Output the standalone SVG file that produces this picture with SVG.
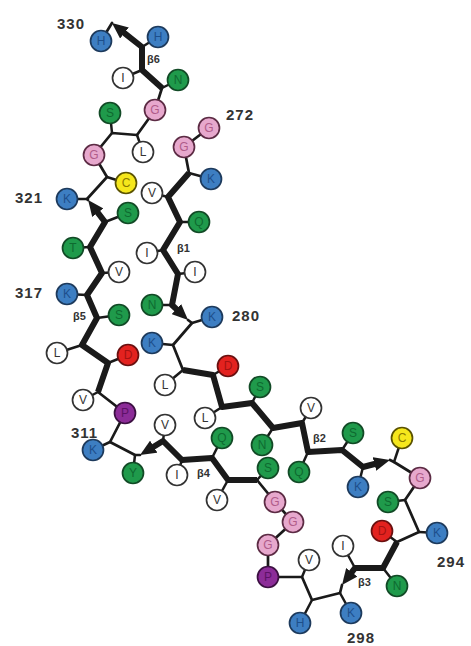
<svg xmlns="http://www.w3.org/2000/svg" width="471" height="646" viewBox="0 0 471 646">
<style>
.loop{fill:none;stroke:#1a1a1a;stroke-width:2.7;stroke-linejoin:round;stroke-linecap:round}
.strand{fill:none;stroke:#1a1a1a;stroke-width:6;stroke-linejoin:round;stroke-linecap:butt;marker-end:url(#ah)}
.side{stroke:#1a1a1a;stroke-width:2.5;stroke-linecap:round}
circle{stroke-width:1.7}
.res text{font-family:"Liberation Sans",Arial,sans-serif;font-size:12px;text-anchor:middle;dominant-baseline:central}
.b circle{fill:#3d7ec2;stroke:#1d3a5c}.b text{fill:#1d4f8c}
.g circle{fill:#1f9a4b;stroke:#124a26}.g text{fill:#0e6a30}
.p circle{fill:#e7a8cd;stroke:#5c2b44}.p text{fill:#b05c8a}
.r circle{fill:#e3221f;stroke:#6a1010}.r text{fill:#a51212}
.y circle{fill:#f5e71c;stroke:#5a5200}.y text{fill:#8a7a00}
.u circle{fill:#8c2c98;stroke:#3c1042}.u text{fill:#5c1266}
.w circle{fill:#ffffff;stroke:#333333}.w text{fill:#333333}
.num{font-family:"Liberation Sans",Arial,sans-serif;font-size:15px;font-weight:bold;fill:#333;letter-spacing:1px}
.beta{font-family:"Liberation Sans",Arial,sans-serif;font-size:11px;font-weight:bold;fill:#333}
</style>
<defs>
<marker id="ah" markerUnits="userSpaceOnUse" markerWidth="16" markerHeight="14" viewBox="0 0 16 14" refX="2" refY="7" orient="auto"><path d="M0,0 L16,7 L0,14 z" fill="#1a1a1a"/></marker>
</defs>
<g id="connectors">
<path class="loop" d="M209,128 L184,147 L189,173"/>
<path class="loop" d="M188,320 L192,323 L173,345 L183,370"/>
<path class="loop" d="M390,460 L394,462 L420,478 L405,500 L419,532 L397,542"/>
<path class="loop" d="M342,585 L340,593 L312,600 L302,577 L268,577 L268,545 L293,522 L275,502 L257,480"/>
<path class="loop" d="M140,455 L135,455 L110,442 L125,413 L98,392"/>
<path class="loop" d="M88,200 L87,199 L107,177 L94,155 L112,133 L137,135 L155,110 L162,88"/>
<path class="loop" d="M101,41 L112,23"/>
<path class="strand" d="M189,173 L168,197 L180,222 L163,250 L178,274 L172,305 L177.8,310.4"/>
<path class="strand" d="M183,370 L213,375 L222,407 L252,403 L273,428 L302,423 L308,452 L342,450 L363,467 L376.4,463.5"/>
<path class="strand" d="M397,542 L383,568 L355,568 L350.5,573.9"/>
<path class="strand" d="M257,480 L228,480 L212,458 L182,460 L163,441 L152,447.7"/>
<path class="strand" d="M98,392 L108,363 L82,345 L97,318 L87,295 L102,273 L90,247 L105,222 L96.6,211.1"/>
<path class="strand" d="M162,88 L142,70 L142,47 L122.9,31.8"/>
<line class="side" x1="189" y1="173" x2="211" y2="179"/>
<line class="side" x1="168" y1="197" x2="152" y2="193"/>
<line class="side" x1="180" y1="222" x2="199" y2="222"/>
<line class="side" x1="163" y1="250" x2="147" y2="253"/>
<line class="side" x1="178" y1="274" x2="195" y2="272"/>
<line class="side" x1="172" y1="305" x2="152" y2="305"/>
<line class="side" x1="192" y1="323" x2="212" y2="317"/>
<line class="side" x1="173" y1="345" x2="152" y2="343"/>
<line class="side" x1="183" y1="370" x2="165" y2="385"/>
<line class="side" x1="213" y1="375" x2="228" y2="366"/>
<line class="side" x1="222" y1="407" x2="205" y2="418"/>
<line class="side" x1="252" y1="403" x2="260" y2="387"/>
<line class="side" x1="273" y1="428" x2="262" y2="445"/>
<line class="side" x1="302" y1="423" x2="311" y2="408"/>
<line class="side" x1="308" y1="452" x2="299" y2="472"/>
<line class="side" x1="342" y1="450" x2="353" y2="433"/>
<line class="side" x1="363" y1="467" x2="358" y2="487"/>
<line class="side" x1="394" y1="462" x2="402" y2="438"/>
<line class="side" x1="405" y1="500" x2="388" y2="502"/>
<line class="side" x1="419" y1="532" x2="437" y2="533"/>
<line class="side" x1="397" y1="542" x2="382" y2="531"/>
<line class="side" x1="383" y1="568" x2="397" y2="586"/>
<line class="side" x1="355" y1="568" x2="343" y2="546"/>
<line class="side" x1="340" y1="593" x2="351" y2="613"/>
<line class="side" x1="312" y1="600" x2="300" y2="623"/>
<line class="side" x1="302" y1="577" x2="309" y2="560"/>
<line class="side" x1="257" y1="480" x2="268" y2="468"/>
<line class="side" x1="228" y1="480" x2="217" y2="500"/>
<line class="side" x1="212" y1="458" x2="222" y2="438"/>
<line class="side" x1="182" y1="460" x2="177" y2="475"/>
<line class="side" x1="163" y1="441" x2="165" y2="425"/>
<line class="side" x1="135" y1="455" x2="133" y2="473"/>
<line class="side" x1="110" y1="442" x2="93" y2="450"/>
<line class="side" x1="98" y1="392" x2="83" y2="400"/>
<line class="side" x1="108" y1="363" x2="128" y2="355"/>
<line class="side" x1="82" y1="345" x2="57" y2="353"/>
<line class="side" x1="97" y1="318" x2="119" y2="315"/>
<line class="side" x1="87" y1="295" x2="67" y2="294"/>
<line class="side" x1="102" y1="273" x2="119" y2="272"/>
<line class="side" x1="90" y1="247" x2="73" y2="248"/>
<line class="side" x1="105" y1="222" x2="128" y2="213"/>
<line class="side" x1="87" y1="199" x2="67" y2="199"/>
<line class="side" x1="107" y1="177" x2="126" y2="183"/>
<line class="side" x1="112" y1="133" x2="110" y2="113"/>
<line class="side" x1="137" y1="135" x2="143" y2="152"/>
<line class="side" x1="162" y1="88" x2="178" y2="80"/>
<line class="side" x1="142" y1="70" x2="123" y2="78"/>
<line class="side" x1="142" y1="47" x2="158" y2="37"/>
</g>
<g id="r272" class="res p"><circle cx="209" cy="128" r="10.5"/><text x="209" y="128">G</text></g>
<g id="r273" class="res p"><circle cx="184" cy="147" r="10.5"/><text x="184" y="147">G</text></g>
<g id="r274" class="res b"><circle cx="211" cy="179" r="10.5"/><text x="211" y="179">K</text></g>
<g id="r275" class="res w"><circle cx="152" cy="193" r="10.5"/><text x="152" y="193">V</text></g>
<g id="r276" class="res g"><circle cx="199" cy="222" r="10.5"/><text x="199" y="222">Q</text></g>
<g id="r277" class="res w"><circle cx="147" cy="253" r="10.5"/><text x="147" y="253">I</text></g>
<g id="r278" class="res w"><circle cx="195" cy="272" r="10.5"/><text x="195" y="272">I</text></g>
<g id="r279" class="res g"><circle cx="152" cy="305" r="10.5"/><text x="152" y="305">N</text></g>
<g id="r280" class="res b"><circle cx="212" cy="317" r="10.5"/><text x="212" y="317">K</text></g>
<g id="r281" class="res b"><circle cx="152" cy="343" r="10.5"/><text x="152" y="343">K</text></g>
<g id="r282" class="res w"><circle cx="165" cy="385" r="10.5"/><text x="165" y="385">L</text></g>
<g id="r283" class="res r"><circle cx="228" cy="366" r="10.5"/><text x="228" y="366">D</text></g>
<g id="r284" class="res w"><circle cx="205" cy="418" r="10.5"/><text x="205" y="418">L</text></g>
<g id="r285" class="res g"><circle cx="260" cy="387" r="10.5"/><text x="260" y="387">S</text></g>
<g id="r286" class="res g"><circle cx="262" cy="445" r="10.5"/><text x="262" y="445">N</text></g>
<g id="r287" class="res w"><circle cx="311" cy="408" r="10.5"/><text x="311" y="408">V</text></g>
<g id="r288" class="res g"><circle cx="299" cy="472" r="10.5"/><text x="299" y="472">Q</text></g>
<g id="r289" class="res g"><circle cx="353" cy="433" r="10.5"/><text x="353" y="433">S</text></g>
<g id="r290" class="res b"><circle cx="358" cy="487" r="10.5"/><text x="358" y="487">K</text></g>
<g id="r291" class="res y"><circle cx="402" cy="438" r="10.5"/><text x="402" y="438">C</text></g>
<g id="r292" class="res p"><circle cx="420" cy="478" r="10.5"/><text x="420" y="478">G</text></g>
<g id="r293" class="res g"><circle cx="388" cy="502" r="10.5"/><text x="388" y="502">S</text></g>
<g id="r294" class="res b"><circle cx="437" cy="533" r="10.5"/><text x="437" y="533">K</text></g>
<g id="r295" class="res r"><circle cx="382" cy="531" r="10.5"/><text x="382" y="531">D</text></g>
<g id="r296" class="res g"><circle cx="397" cy="586" r="10.5"/><text x="397" y="586">N</text></g>
<g id="r297" class="res w"><circle cx="343" cy="546" r="10.5"/><text x="343" y="546">I</text></g>
<g id="r298" class="res b"><circle cx="351" cy="613" r="10.5"/><text x="351" y="613">K</text></g>
<g id="r299" class="res b"><circle cx="300" cy="623" r="10.5"/><text x="300" y="623">H</text></g>
<g id="r300" class="res w"><circle cx="309" cy="560" r="10.5"/><text x="309" y="560">V</text></g>
<g id="r301" class="res u"><circle cx="268" cy="577" r="10.5"/><text x="268" y="577">P</text></g>
<g id="r302" class="res p"><circle cx="268" cy="545" r="10.5"/><text x="268" y="545">G</text></g>
<g id="r303" class="res p"><circle cx="293" cy="522" r="10.5"/><text x="293" y="522">G</text></g>
<g id="r304" class="res p"><circle cx="275" cy="502" r="10.5"/><text x="275" y="502">G</text></g>
<g id="r305" class="res g"><circle cx="268" cy="468" r="10.5"/><text x="268" y="468">S</text></g>
<g id="r306" class="res w"><circle cx="217" cy="500" r="10.5"/><text x="217" y="500">V</text></g>
<g id="r307" class="res g"><circle cx="222" cy="438" r="10.5"/><text x="222" y="438">Q</text></g>
<g id="r308" class="res w"><circle cx="177" cy="475" r="10.5"/><text x="177" y="475">I</text></g>
<g id="r309" class="res w"><circle cx="165" cy="425" r="10.5"/><text x="165" y="425">V</text></g>
<g id="r310" class="res g"><circle cx="133" cy="473" r="10.5"/><text x="133" y="473">Y</text></g>
<g id="r311" class="res b"><circle cx="93" cy="450" r="10.5"/><text x="93" y="450">K</text></g>
<g id="r312" class="res u"><circle cx="125" cy="413" r="10.5"/><text x="125" y="413">P</text></g>
<g id="r313" class="res w"><circle cx="83" cy="400" r="10.5"/><text x="83" y="400">V</text></g>
<g id="r314" class="res r"><circle cx="128" cy="355" r="10.5"/><text x="128" y="355">D</text></g>
<g id="r315" class="res w"><circle cx="57" cy="353" r="10.5"/><text x="57" y="353">L</text></g>
<g id="r316" class="res g"><circle cx="119" cy="315" r="10.5"/><text x="119" y="315">S</text></g>
<g id="r317" class="res b"><circle cx="67" cy="294" r="10.5"/><text x="67" y="294">K</text></g>
<g id="r318" class="res w"><circle cx="119" cy="272" r="10.5"/><text x="119" y="272">V</text></g>
<g id="r319" class="res g"><circle cx="73" cy="248" r="10.5"/><text x="73" y="248">T</text></g>
<g id="r320" class="res g"><circle cx="128" cy="213" r="10.5"/><text x="128" y="213">S</text></g>
<g id="r321" class="res b"><circle cx="67" cy="199" r="10.5"/><text x="67" y="199">K</text></g>
<g id="r322" class="res y"><circle cx="126" cy="183" r="10.5"/><text x="126" y="183">C</text></g>
<g id="r323" class="res p"><circle cx="94" cy="155" r="10.5"/><text x="94" y="155">G</text></g>
<g id="r324" class="res g"><circle cx="110" cy="113" r="10.5"/><text x="110" y="113">S</text></g>
<g id="r325" class="res w"><circle cx="143" cy="152" r="10.5"/><text x="143" y="152">L</text></g>
<g id="r326" class="res p"><circle cx="155" cy="110" r="10.5"/><text x="155" y="110">G</text></g>
<g id="r327" class="res g"><circle cx="178" cy="80" r="10.5"/><text x="178" y="80">N</text></g>
<g id="r328" class="res w"><circle cx="123" cy="78" r="10.5"/><text x="123" y="78">I</text></g>
<g id="r329" class="res b"><circle cx="158" cy="37" r="10.5"/><text x="158" y="37">H</text></g>
<g id="r330" class="res b"><circle cx="101" cy="41" r="10.5"/><text x="101" y="41">H</text></g>
<g id="labels">
<text class="num" x="57" y="28.5">330</text>
<text class="num" x="226" y="119.5">272</text>
<text class="num" x="15" y="203">321</text>
<text class="num" x="15" y="298">317</text>
<text class="num" x="232" y="321">280</text>
<text class="num" x="71" y="438">311</text>
<text class="num" x="437" y="567">294</text>
<text class="num" x="347" y="643">298</text>
<text class="beta" x="147" y="63">β6</text>
<text class="beta" x="177" y="252">β1</text>
<text class="beta" x="73" y="320">β5</text>
<text class="beta" x="197" y="477">β4</text>
<text class="beta" x="313" y="442">β2</text>
<text class="beta" x="358" y="586">β3</text>
</g>
</svg>
